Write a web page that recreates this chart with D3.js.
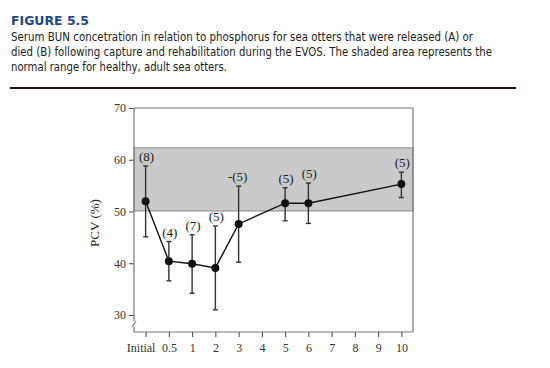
<!DOCTYPE html>
<html>
<head>
<meta charset='utf-8'>
<title>Figure 5.5</title>
<script src='https://d3js.org/d3.v7.min.js'></script>
<style>
  body { margin: 0; background: #fff; }
</style>
</head>
<body>
<div id="container"></div>
<script>

// x categories (days after capture) and the plotted series
const categories = ["Initial", "0.5", "1", "2", "3", "4", "5", "6", "7", "8", "9", "10"];
const days = ["Initial", "0.5", "1", "2", "3", "5", "6", "10"];
const means = [52.0, 40.4, 39.9, 39.1, 47.6, 51.6, 51.6, 55.3];
const upper = [58.8, 44.2, 45.5, 47.2, 54.9, 54.6, 55.5, 57.6];
const lower = [45.1, 36.6, 34.2, 31.0, 40.2, 48.2, 47.7, 52.7];
const nLabels = ["(8)", "(4)", "(7)", "(5)", "-(5)", "(5)", "(5)", "(5)"];
const normalRange = [50.1, 62.3];
const yTicks = [30, 40, 50, 60, 70];

const captionLines = [
  "Serum BUN concetration in relation to phosphorus for sea otters that were released (A) or",
  "died (B) following capture and rehabilitation during the EVOS. The shaded area represents the",
  "normal range for healthy, adult sea otters."
];
const captionWidths = [462, 481, 216];

const width = 550,
      height = 368,
      margin = { top: 108, bottom: 36, left: 134, right: 137 };

const svg = d3.select("#container")
  .append("svg")
  .attr("width", width)
  .attr("height", height);

// header
svg.append("text")
  .attr("x", 11)
  .attr("y", 25)
  .text("FIGURE 5.5")
  .attr("textLength", 78)
  .attr("lengthAdjust", "spacingAndGlyphs")
  .style("font-family", "DejaVu Sans")
  .style("font-weight", "bold")
  .style("font-size", "13px")
  .style("fill", "#1d4a86");

svg.selectAll(".caption")
  .data(captionLines)
  .enter()
  .append("text")
  .attr("class", "caption")
  .attr("x", 11)
  .attr("y", (d, i) => 41 + i * 15)
  .attr("textLength", (d, i) => captionWidths[i])
  .attr("lengthAdjust", "spacingAndGlyphs")
  .text(d => d)
  .style("font-family", "'DejaVu Sans Condensed', 'DejaVu Sans'")
  .style("font-size", "11.5px")
  .style("fill", "#222");

svg.append("line")
  .attr("x1", 10).attr("x2", 516)
  .attr("y1", 88).attr("y2", 88)
  .style("stroke", "#2a0c0c")
  .style("stroke-width", 2.2);

// scales
const x = d3.scalePoint()
  .domain(categories)
  .range([margin.left, width - margin.right])
  .padding(0.5);

const y = d3.scaleLinear()
  .domain([30, 70])
  .range([315, margin.top]);

const bottom = height - margin.bottom;
const axisColor = "#777";

// shaded normal range
svg.append("rect")
  .attr("x", margin.left)
  .attr("width", width - margin.right - margin.left)
  .attr("y", y(normalRange[1]))
  .attr("height", y(normalRange[0]) - y(normalRange[1]))
  .style("fill", "#cacaca")
  .style("stroke", "#8a8a8a")
  .style("stroke-width", 1);

// frame top and right
svg.append("path")
  .attr("d", `M${margin.left},${margin.top}H${width - margin.right}V${bottom}`)
  .style("fill", "none")
  .style("stroke", axisColor)
  .style("stroke-width", 1.2);

// y axis with break
const yAxis = svg.append("g")
  .attr("transform", `translate(${margin.left},0)`)
  .call(d3.axisLeft(y).tickValues(yTicks).tickSize(5).tickPadding(3));
yAxis.select(".domain").remove();
yAxis.selectAll("line").style("stroke", "#444");
yAxis.selectAll("text")
  .style("font-family", "Liberation Serif")
  .style("font-size", "12px")
  .style("fill", "#333");

svg.append("path")
  .attr("d", `M${margin.left},${margin.top}V321 M${margin.left - 2},327 L${margin.left + 2},321 M${margin.left},327V${bottom}H${width - margin.right}`)
  .style("fill", "none")
  .style("stroke", axisColor)
  .style("stroke-width", 1.2);

// x axis
const xAxis = svg.append("g")
  .attr("transform", `translate(0,${bottom})`)
  .call(d3.axisBottom(x).tickSize(5).tickPadding(6));
xAxis.select(".domain").remove();
xAxis.selectAll("line").style("stroke", "#444");
xAxis.selectAll("text")
  .attr("dx", d => d === "Initial" ? -5 : 0)
  .style("font-family", "Liberation Serif")
  .style("font-size", "12px")
  .style("fill", "#333");

svg.append("text")
  .attr("transform", `translate(99, 223) rotate(-90)`)
  .attr("text-anchor", "middle")
  .text("PCV (%)")
  .style("font-family", "Liberation Serif")
  .style("font-size", "13px")
  .style("fill", "#222");

// error bars
const bars = svg.selectAll(".err")
  .data(days)
  .enter()
  .append("g")
  .attr("class", "err")
  .style("stroke", "#333")
  .style("stroke-width", 1.4);

bars.append("line")
  .attr("x1", d => x(d)).attr("x2", d => x(d))
  .attr("y1", (d, i) => y(upper[i]))
  .attr("y2", (d, i) => y(lower[i]));
bars.append("line")
  .attr("x1", d => x(d) - 2.5).attr("x2", d => x(d) + 2.5)
  .attr("y1", (d, i) => y(upper[i]))
  .attr("y2", (d, i) => y(upper[i]));
bars.append("line")
  .attr("x1", d => x(d) - 2.5).attr("x2", d => x(d) + 2.5)
  .attr("y1", (d, i) => y(lower[i]))
  .attr("y2", (d, i) => y(lower[i]));

// mean line and markers
const line = d3.line()
  .x((d, i) => x(days[i]))
  .y(d => y(d));

svg.append("path")
  .datum(means)
  .attr("d", line)
  .style("fill", "none")
  .style("stroke", "#111")
  .style("stroke-width", 1.4);

svg.selectAll(".pt")
  .data(means)
  .enter()
  .append("circle")
  .attr("class", "pt")
  .attr("cx", (d, i) => x(days[i]))
  .attr("cy", d => y(d))
  .attr("r", 4)
  .style("fill", "#111");

// sample sizes
svg.selectAll(".nlab")
  .data(nLabels)
  .enter()
  .append("text")
  .attr("class", "nlab")
  .attr("x", (d, i) => x(days[i]) + (d.startsWith("-") ? -1 : 1))
  .attr("y", (d, i) => y(upper[i]) - 5)
  .attr("text-anchor", "middle")
  .text(d => d)
  .style("font-family", "Liberation Serif")
  .style("font-size", "13px")
  .style("fill", "#222");

</script>
</body>
</html>
